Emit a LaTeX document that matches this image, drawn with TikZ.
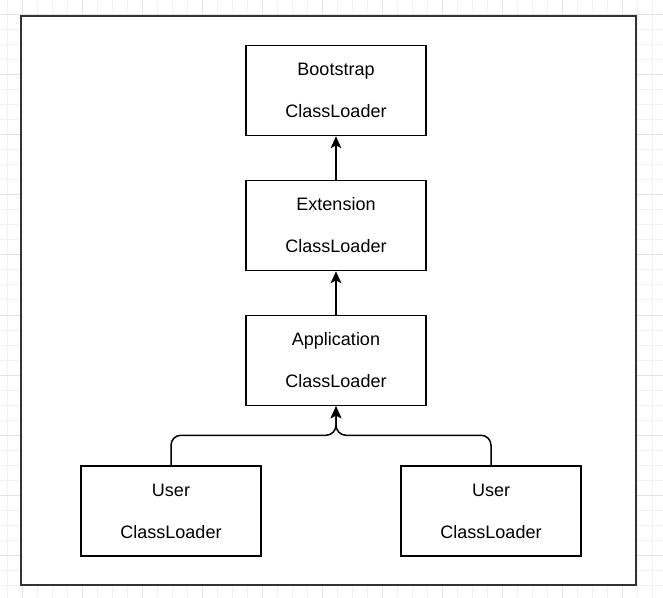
\documentclass[tikz,border=0pt]{standalone}
\usepackage{fontspec}
\setmainfont{Liberation Sans}
\usetikzlibrary{arrows.meta}
\definecolor{gridminor}{HTML}{F2F2F2}
\definecolor{gridmajor}{HTML}{E2E2E2}
\definecolor{framecol}{HTML}{333333}
\tikzset{
  loaderbox/.style={draw=black, line width=1.125pt, fill=white, minimum width=135pt, minimum height=67.5pt, inner sep=0pt, align=center, font=\fontsize{13.5}{15.75}\selectfont},
  conn/.style={line width=1.125pt, -{Stealth[length=9pt, width=8pt, inset=2.2pt]}},
}
\begin{document}
\begin{tikzpicture}[x=0.75pt, y=-0.75pt]
\useasboundingbox (0,0) rectangle (663,598);
\fill[white] (0,0) rectangle (663,598);
% grid
\foreach \gx in {7,22,...,667} {\draw[gridminor, line width=0.75pt] (\gx,0) -- (\gx,598);}
\foreach \gy in {0,15,...,600} {\draw[gridminor, line width=0.75pt] (0,\gy) -- (663,\gy);}
\foreach \gx in {22,82,...,663} {\draw[gridmajor, line width=0.75pt] (\gx,0) -- (\gx,598);}
\foreach \gy in {15,75,...,598} {\draw[gridmajor, line width=0.75pt] (0,\gy) -- (663,\gy);}
% frame
\draw[framecol, fill=white, line width=1.4pt] (21,16) rectangle (636,585);
% boxes
\node[loaderbox] (boot) at (336,90.5) {Bootstrap\\[15.75pt]ClassLoader};
\node[loaderbox] (ext) at (336,225.5) {Extension\\[15.75pt]ClassLoader};
\node[loaderbox] (app) at (336,360.5) {Application\\[15.75pt]ClassLoader};
\node[loaderbox] (userl) at (171,511) {User\\[15.75pt]ClassLoader};
\node[loaderbox] (userr) at (491,511) {User\\[15.75pt]ClassLoader};
% connectors
\draw[conn] (ext.north) -- (boot.south);
\draw[conn] (app.north) -- (ext.south);
\draw[conn, rounded corners=7.5pt] (userl.north) -- ++(0,-30) -| (app.south);
\draw[conn, rounded corners=7.5pt] (userr.north) -- ++(0,-30) -| (app.south);
\end{tikzpicture}
\end{document}
